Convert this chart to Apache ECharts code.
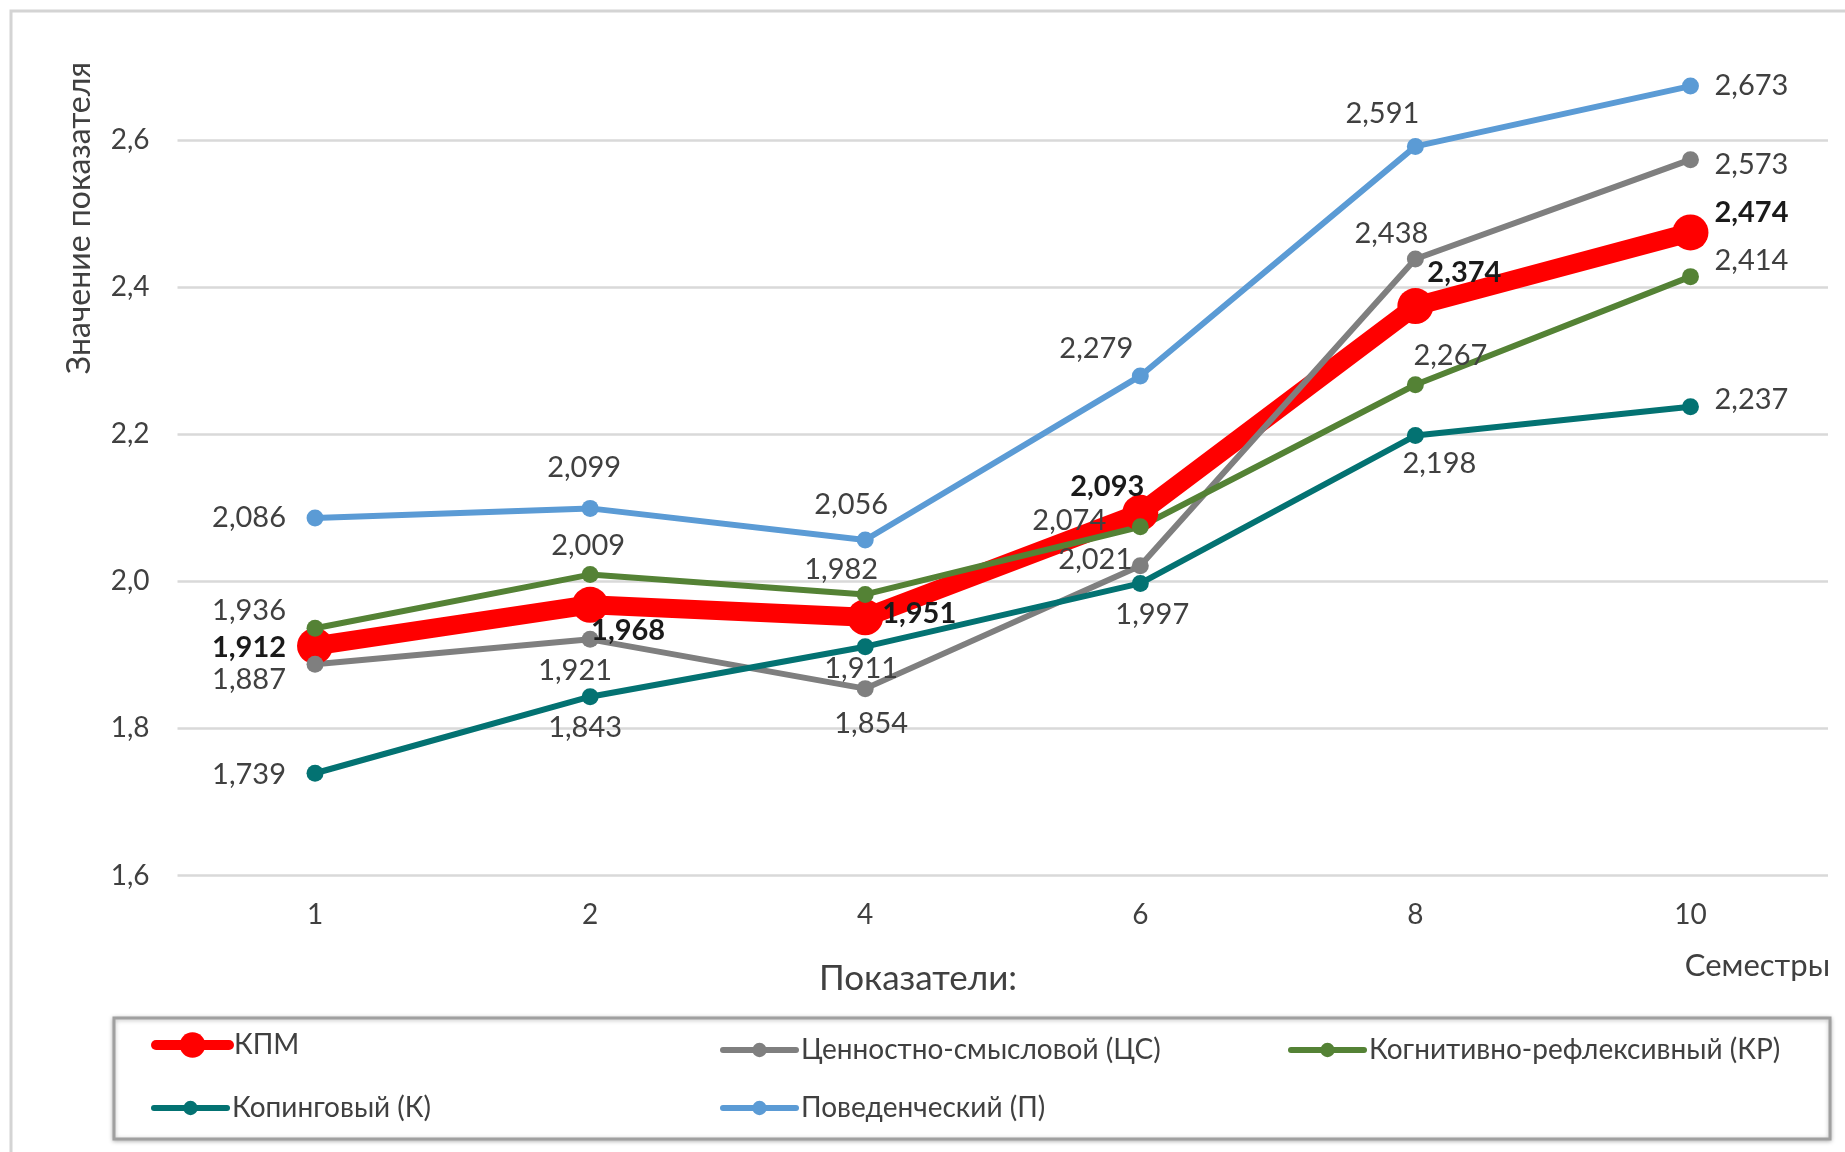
<!DOCTYPE html>
<html>
<head>
<meta charset="utf-8">
<script src="https://cdn.jsdelivr.net/npm/echarts@6/dist/echarts.min.js"></script>
<style>
  html, body { margin: 0; padding: 0; background: #ffffff; }
  #chart { width: 1845px; height: 1152px; }
</style>
</head>
<body>
<div id="chart"></div>
<script>
// Semesters along the x axis
const semesters = ['1', '2', '4', '6', '8', '10'];

// Indicator values per semester
const kpm = [1.912, 1.968, 1.951, 2.093, 2.374, 2.474];   // КПМ
const cs  = [1.887, 1.921, 1.854, 2.021, 2.438, 2.573];   // Ценностно-смысловой (ЦС)
const kr  = [1.936, 2.009, 1.982, 2.074, 2.267, 2.414];   // Когнитивно-рефлексивный (КР)
const kop = [1.739, 1.843, 1.911, 1.997, 2.198, 2.237];   // Копинговый (К)
const pov = [2.086, 2.099, 2.056, 2.279, 2.591, 2.673];   // Поведенческий (П)

// Y axis ticks
const yTicks = [1.6, 1.8, 2.0, 2.2, 2.4, 2.6];

// Value label offsets from each point (px), kept apart from the data
const offKpm = [[-66, 2], [38, 26], [54, -4], [-33, -26], [49, -33], [61, -20]];
const offCs  = [[-66, 15], [-15, 31], [6, 35], [-45, -6], [-24, -25], [61, 5]];
const offKr  = [[-66, -18], [-2, -29], [-24, -25], [-71, -6], [35, -29], [61, -16]];
const offKop = [[-66, 1], [-5, 31], [-4, 22], [12, 31], [24, 28], [61, -7]];
const offPov = [[-66, 0], [-6, -41], [-14, -35], [-44, -27], [-33, -33], [61, 0]];

const FONT = 'Lato, "Open Sans", sans-serif';
const TXT = '#404040';

const fmt3 = v => v.toFixed(3).replace('.', ',');

function points(values, offsets) {
  return values.map((v, i) => ({ value: v, label: { offset: offsets[i] } }));
}

function lineSeries(name, values, offsets, color, width, symSize, bold) {
  return {
    name: name,
    type: 'line',
    data: points(values, offsets),
    symbol: 'circle',
    symbolSize: symSize,
    lineStyle: { color: color, width: width, cap: 'round', join: 'round' },
    itemStyle: { color: color },
    emphasis: { disabled: true },
    label: {
      show: true,
      position: 'inside',
      align: 'center',
      verticalAlign: 'middle',
      formatter: p => fmt3(p.value),
      color: bold ? '#1a1a1a' : TXT,
      fontWeight: bold ? 'bold' : 'normal',
      fontSize: 29,
      fontFamily: FONT
    }
  };
}

function legendItem(name, left, top, h, lw) {
  return {
    data: [name],
    left: left,
    top: top,
    padding: 0,
    itemWidth: 73,
    itemHeight: h,
    lineStyle: { width: lw },
    selectedMode: false,
    textStyle: { fontSize: 28, fontFamily: FONT, color: TXT, padding: [0, 0, 0, 0] }
  };
}

const chart = echarts.init(document.getElementById('chart'));
chart.setOption({
  animation: false,
  backgroundColor: '#ffffff',
  grid: { left: 177.5, right: 17, top: 0, bottom: 276.5, containLabel: false },
  xAxis: {
    type: 'category',
    data: semesters,
    boundaryGap: true,
    axisLine: { show: false },
    axisTick: { show: false },
    axisLabel: { margin: 25, fontSize: 28, fontFamily: FONT, color: TXT }
  },
  yAxis: {
    type: 'value',
    min: yTicks[0],
    max: 2.79,
    interval: 0.2,
    axisLine: { show: false },
    axisTick: { show: false },
    splitLine: { showMaxLine: false, lineStyle: { color: '#D9D9D9', width: 2.5 } },
    axisLabel: {
      margin: 28,
      fontSize: 28,
      fontFamily: FONT,
      color: TXT,
      formatter: v => (yTicks.some(t => Math.abs(t - v) < 1e-6) ? v.toFixed(1).replace('.', ',') : '')
    }
  },
  legend: [
    legendItem('КПМ', 151, 1031, 32, 10),
    legendItem('Ценностно-смысловой (ЦС)', 720, 1036, 18, 6),
    legendItem('Когнитивно-рефлексивный (КР)', 1288, 1036, 18, 6),
    legendItem('Копинговый (К)', 151, 1094, 18, 6),
    legendItem('Поведенческий (П)', 720, 1094, 18, 6)
  ],
  graphic: [
    {
      type: 'rect', silent: true, z: 100,
      shape: { x: 11, y: 11, width: 1900, height: 1200 },
      style: { fill: 'none', stroke: '#D4D4D4', lineWidth: 3 }
    },
    {
      type: 'rect', silent: true, z: -5,
      shape: { x: 114, y: 1018, width: 1716, height: 121 },
      style: { fill: '#ffffff', stroke: '#A0A0A0', lineWidth: 3,
               shadowBlur: 4, shadowColor: 'rgba(0,0,0,0.25)', shadowOffsetY: 1 }
    },
    {
      type: 'text', silent: true,
      x: 80, y: 218, rotation: Math.PI / 2,
      style: { text: 'Значение показателя', fontSize: 32, fontFamily: FONT, fill: TXT,
               align: 'center', verticalAlign: 'middle' }
    },
    {
      type: 'text', silent: true,
      x: 918, y: 979,
      style: { text: 'Показатели:', fontSize: 35, fontFamily: FONT, fill: TXT,
               align: 'center', verticalAlign: 'middle' }
    },
    {
      type: 'text', silent: true,
      x: 1830, y: 966,
      style: { text: 'Семестры', fontSize: 31, fontFamily: FONT, fill: TXT,
               align: 'right', verticalAlign: 'middle' }
    }
  ],
  series: [
    lineSeries('КПМ', kpm, offKpm, '#FF0000', 19, 36, true),
    lineSeries('Ценностно-смысловой (ЦС)', cs, offCs, '#7F7F7F', 6, 17, false),
    lineSeries('Когнитивно-рефлексивный (КР)', kr, offKr, '#548235', 6, 17, false),
    lineSeries('Копинговый (К)', kop, offKop, '#037272', 6, 17, false),
    lineSeries('Поведенческий (П)', pov, offPov, '#5B9BD5', 6, 17, false)
  ]
});
</script>
</body>
</html>
